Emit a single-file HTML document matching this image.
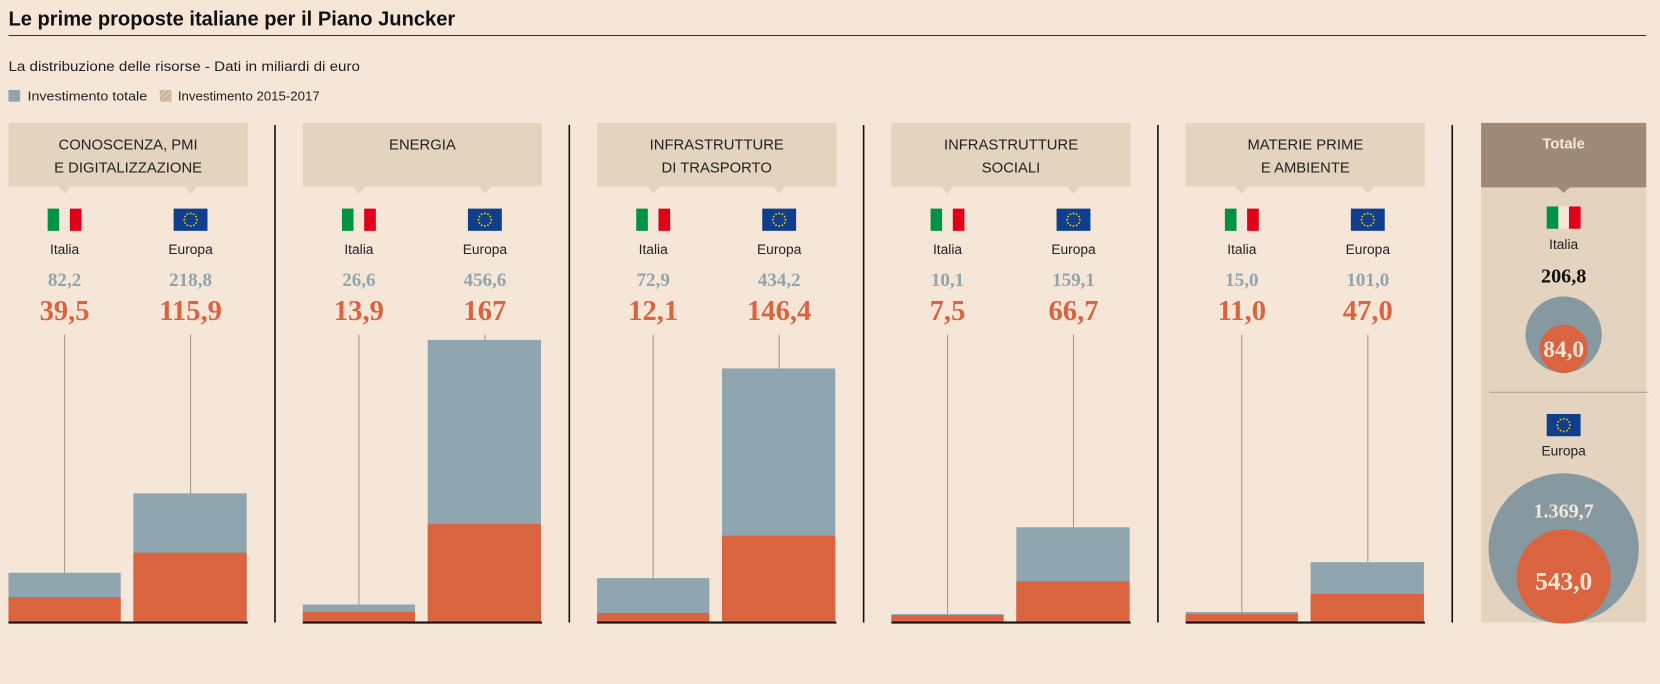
<!DOCTYPE html>
<html><head><meta charset="utf-8"><style>
html,body{margin:0;padding:0;background:#f5e6d7;}
svg{display:block}
.s{font-family:"Liberation Sans",sans-serif;fill:#222}
.n{font-family:"Liberation Serif",serif;font-weight:bold;text-anchor:middle}
</style></head><body>
<svg width="1660" height="684" viewBox="0 0 1568 646" xmlns="http://www.w3.org/2000/svg">
<defs>
<g id="it"><rect x="-16" y="0" width="11" height="21" fill="#009246"/><rect x="-5" y="0" width="10" height="21" fill="#f5e6d7"/><rect x="5" y="0" width="11" height="21" fill="#e0001a"/></g>
<g id="eu"><rect x="-16" y="0" width="32" height="21" fill="#0f3f8c"/>
<g fill="#f2c200"><circle cx="0" cy="4.5" r="0.9"/><circle cx="3" cy="5.3" r="0.9"/><circle cx="5.2" cy="7.5" r="0.9"/><circle cx="6" cy="10.5" r="0.9"/><circle cx="5.2" cy="13.5" r="0.9"/><circle cx="3" cy="15.7" r="0.9"/><circle cx="0" cy="16.5" r="0.9"/><circle cx="-3" cy="15.7" r="0.9"/><circle cx="-5.2" cy="13.5" r="0.9"/><circle cx="-6" cy="10.5" r="0.9"/><circle cx="-5.2" cy="7.5" r="0.9"/><circle cx="-3" cy="5.3" r="0.9"/></g></g>
<pattern id="h" width="4" height="4" patternUnits="userSpaceOnUse" patternTransform="rotate(45)"><rect width="4" height="4" fill="#d8c6b0"/><rect width="2" height="4" fill="#c4ae96"/></pattern>
</defs>
<rect width="1568" height="646" fill="#f5e6d7"/>
<text x="8" y="24" class="s" font-size="19" font-weight="bold" style="fill:#111" textLength="422" lengthAdjust="spacingAndGlyphs">Le prime proposte italiane per il Piano Juncker</text>
<rect x="8" y="33" width="1547" height="1" fill="#333"/>
<text x="8" y="67" class="s" font-size="13" textLength="332" lengthAdjust="spacingAndGlyphs">La distribuzione delle risorse - Dati in miliardi di euro</text>
<rect x="8" y="85" width="11" height="11" fill="#8fa5b0"/>
<text x="26" y="95" class="s" font-size="12" textLength="113" lengthAdjust="spacingAndGlyphs">Investimento totale</text>
<rect x="151" y="85" width="11" height="11" fill="url(#h)"/>
<text x="168" y="95" class="s" font-size="12" textLength="134" lengthAdjust="spacingAndGlyphs">Investimento 2015-2017</text>

<g fill="#111"><rect x="259" y="118" width="1.5" height="470"/><rect x="537" y="118" width="1.5" height="470"/><rect x="815" y="118" width="1.5" height="470"/><rect x="1093" y="118" width="1.5" height="470"/><rect x="1371" y="118" width="1.5" height="470"/></g>

<g transform="translate(8,0)">
<rect x="0" y="116" width="226" height="60" fill="#e4d3bf"/><path d="M47 176h12l-6 7z M166 176h12l-6 7z" fill="#e4d3bf"/>
<text x="113" y="141" class="s" font-size="14" text-anchor="middle">CONOSCENZA, PMI</text>
<text x="113" y="163" class="s" font-size="14" text-anchor="middle">E DIGITALIZZAZIONE</text>
</g>
<g transform="translate(286,0)">
<rect x="0" y="116" width="226" height="60" fill="#e4d3bf"/><path d="M47 176h12l-6 7z M166 176h12l-6 7z" fill="#e4d3bf"/>
<text x="113" y="141" class="s" font-size="14" text-anchor="middle">ENERGIA</text>
</g>
<g transform="translate(564,0)">
<rect x="0" y="116" width="226" height="60" fill="#e4d3bf"/><path d="M47 176h12l-6 7z M166 176h12l-6 7z" fill="#e4d3bf"/>
<text x="113" y="141" class="s" font-size="14" text-anchor="middle">INFRASTRUTTURE</text>
<text x="113" y="163" class="s" font-size="14" text-anchor="middle">DI TRASPORTO</text>
</g>
<g transform="translate(842,0)">
<rect x="0" y="116" width="226" height="60" fill="#e4d3bf"/><path d="M47 176h12l-6 7z M166 176h12l-6 7z" fill="#e4d3bf"/>
<text x="113" y="141" class="s" font-size="14" text-anchor="middle">INFRASTRUTTURE</text>
<text x="113" y="163" class="s" font-size="14" text-anchor="middle">SOCIALI</text>
</g>
<g transform="translate(1120,0)">
<rect x="0" y="116" width="226" height="60" fill="#e4d3bf"/><path d="M47 176h12l-6 7z M166 176h12l-6 7z" fill="#e4d3bf"/>
<text x="113" y="141" class="s" font-size="14" text-anchor="middle">MATERIE PRIME</text>
<text x="113" y="163" class="s" font-size="14" text-anchor="middle">E AMBIENTE</text>
</g>

<g>
<use href="#it" x="61" y="197"/><use href="#eu" x="180" y="197"/>
<use href="#it" x="339" y="197"/><use href="#eu" x="458" y="197"/>
<use href="#it" x="617" y="197"/><use href="#eu" x="736" y="197"/>
<use href="#it" x="895" y="197"/><use href="#eu" x="1014" y="197"/>
<use href="#it" x="1173" y="197"/><use href="#eu" x="1292" y="197"/>
</g>
<g class="s" font-size="13" text-anchor="middle">
<text x="61" y="240">Italia</text><text x="180" y="240">Europa</text>
<text x="339" y="240">Italia</text><text x="458" y="240">Europa</text>
<text x="617" y="240">Italia</text><text x="736" y="240">Europa</text>
<text x="895" y="240">Italia</text><text x="1014" y="240">Europa</text>
<text x="1173" y="240">Italia</text><text x="1292" y="240">Europa</text>
</g>
<g class="n" font-size="18" fill="#8fa5b0">
<text x="61" y="270">82,2</text><text x="180" y="270">218,8</text>
<text x="339" y="270">26,6</text><text x="458" y="270">456,6</text>
<text x="617" y="270">72,9</text><text x="736" y="270">434,2</text>
<text x="895" y="270">10,1</text><text x="1014" y="270">159,1</text>
<text x="1173" y="270">15,0</text><text x="1292" y="270">101,0</text>
</g>
<g class="n" font-size="27" fill="#d9643f">
<text x="61" y="302">39,5</text><text x="180" y="302">115,9</text>
<text x="339" y="302">13,9</text><text x="458" y="302">167</text>
<text x="617" y="302">12,1</text><text x="736" y="302">146,4</text>
<text x="895" y="302">7,5</text><text x="1014" y="302">66,7</text>
<text x="1173" y="302">11,0</text><text x="1292" y="302">47,0</text>
</g>
<g fill="#a8968a">
<rect x="60.5" y="316" width="1" height="225"/><rect x="179.5" y="316" width="1" height="150"/>
<rect x="338.5" y="316" width="1" height="255"/><rect x="457.5" y="316" width="1" height="5"/>
<rect x="616.5" y="316" width="1" height="230"/><rect x="735.5" y="316" width="1" height="32"/>
<rect x="894.5" y="316" width="1" height="264"/><rect x="1013.5" y="316" width="1" height="182"/>
<rect x="1172.5" y="316" width="1" height="262"/><rect x="1291.5" y="316" width="1" height="215"/>
</g>
<g fill="#8fa5b0">
<rect x="8" y="541" width="106" height="47"/><rect x="126" y="466" width="107" height="122"/>
<rect x="286" y="571" width="106" height="17"/><rect x="404" y="321" width="107" height="267"/>
<rect x="564" y="546" width="106" height="42"/><rect x="682" y="348" width="107" height="240"/>
<rect x="842" y="580" width="106" height="8"/><rect x="960" y="498" width="107" height="90"/>
<rect x="1120" y="578" width="106" height="10"/><rect x="1238" y="531" width="107" height="57"/>
</g>
<g fill="#d9643f">
<rect x="8" y="564" width="106" height="24"/><rect x="126" y="522" width="107" height="66"/>
<rect x="286" y="578" width="106" height="10"/><rect x="404" y="495" width="107" height="93"/>
<rect x="564" y="579" width="106" height="9"/><rect x="682" y="506" width="107" height="82"/>
<rect x="842" y="581" width="106" height="7"/><rect x="960" y="549" width="107" height="39"/>
<rect x="1120" y="580" width="106" height="8"/><rect x="1238" y="561" width="107" height="27"/>
</g>
<g fill="#111">
<rect x="8" y="587" width="226" height="2"/><rect x="286" y="587" width="226" height="2"/><rect x="564" y="587" width="226" height="2"/><rect x="842" y="587" width="226" height="2"/><rect x="1120" y="587" width="226" height="2"/>
</g>

<rect x="1399" y="177" width="156" height="411" fill="#e4d3bf"/>
<rect x="1399" y="116" width="156" height="61" fill="#9e8a78"/>
<path d="M1471 177h12l-6 5z" fill="#9e8a78"/>
<text x="1477" y="140" class="s" font-size="14" font-weight="bold" style="fill:#f5e6d7" text-anchor="middle">Totale</text>
<use href="#it" x="1477" y="195"/>
<text x="1477" y="235" class="s" font-size="13" text-anchor="middle">Italia</text>
<text x="1477" y="267" class="n" font-size="19" fill="#111">206,8</text>
<circle cx="1477" cy="316" r="36" fill="#8799a0"/>
<circle cx="1477" cy="329.5" r="22.8" fill="#d9643f"/>
<text x="1477" y="337" class="n" font-size="22" fill="#f5e6d7">84,0</text>
<rect x="1407" y="370" width="150" height="1" fill="#b0a090"/>
<use href="#eu" x="1477" y="391"/>
<text x="1477" y="430" class="s" font-size="13" text-anchor="middle">Europa</text>
<circle cx="1477" cy="518" r="71" fill="#8799a0"/>
<circle cx="1477" cy="544.5" r="44.5" fill="#d9643f"/>
<text x="1477" y="489" class="n" font-size="19" fill="#f5e6d7">1.369,7</text>
<text x="1477" y="557" class="n" font-size="24" fill="#f5e6d7">543,0</text>
</svg>
</body></html>
